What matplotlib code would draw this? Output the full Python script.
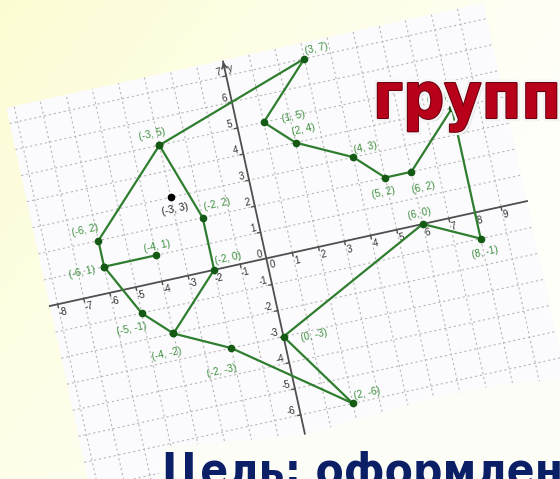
import matplotlib

matplotlib.use("Agg")
import matplotlib.pyplot as plt
import matplotlib.patheffects as pe
import numpy as np
from matplotlib.patches import Polygon, Rectangle
from matplotlib.transforms import Affine2D

# picture traced point to point on the coordinate plane
outline_x = [-4, -6, -6, -3, 3, 1, 2, 4, 5, 6, 8, 8, 6, 0, 2, -2, -4, -5, -6]
outline_y = [1, 1, 2, 5, 7, 5, 4, 3, 2, 2, 4, -1, 0, -3, -6, -3, -2, -1, 1]
inner_x = [-3, -2, -2, -4]
inner_y = [5, 2, 0, -2]
eye_x = [-3]
eye_y = [3]

x_ticks = [-8, -7, -6, -5, -4, -3, -2, -1, 1, 2, 3, 4, 5, 6, 7, 8, 9]
y_ticks = [-6, -5, -4, -3, -2, -1, 1, 2, 3, 4, 5, 6, 7]

heading = "групп"
goal = "Цель: оформлен"

# label offsets in screen pixels (right, down) from each point
label_offsets = {
    (3, 7): (12, -10), (1, 5): (30, -6), (2, 4): (8, -13), (4, 3): (12, -10),
    (5, 2): (-2, 15), (6, 2): (12, 16), (8, 4): (-14, -10), (8, -1): (4, 14),
    (6, 0): (-3, -10), (0, -3): (31, -1), (2, -6): (14, -10), (-2, -3): (-10, 23),
    (-4, -2): (-7, 20), (-5, -1): (-10, 16), (-6, 1): (-22, 6), (-6, 2): (-13, -10),
    (-4, 1): (1, -9), (-3, 5): (-7, -11), (-2, 2): (14, -13), (-2, 0): (14, -12),
    (-3, 3): (4, 12),
}

W, H = 560, 479
ANGLE = 12.4
UNIT = 26.7
ORIGIN = (266.3, 258.4)
LINE = "#2f7d2f"
LABEL = "#3e8f3e"
FONT = ["Liberation Sans", "DejaVu Sans"]

fig = plt.figure(figsize=(W / 100, H / 100), dpi=100)
ax = fig.add_axes([0, 0, 1, 1])
ax.set_axis_off()

# pale yellow backdrop
gx, gy = np.meshgrid(np.linspace(0, 1, 200), np.linspace(0, 1, 170))
t = np.clip(gx * 0.9 + gy * 0.55, 0, 1)[..., None]
top = np.array([252, 252, 212]) / 255
end = np.array([255, 255, 249]) / 255
ax.imshow(top * (1 - t) + end * t, extent=(0, W, H, 0), zorder=0, aspect="auto")
ax.set_xlim(0, W)
ax.set_ylim(H, 0)

grid_tr = Affine2D().scale(UNIT, -UNIT).rotate_deg(-ANGLE).translate(*ORIGIN) + ax.transData

x0, x1, y0, y1 = -8.3, 10.0, -8.6, 7.6
ax.add_patch(Rectangle((x0, y0), x1 - x0, y1 - y0, transform=grid_tr,
                       facecolor="#fbfbfd", edgecolor="none", zorder=1))
for gx_ in range(-8, 10):
    ax.plot([gx_, gx_], [y0, y1], transform=grid_tr, color="#b8b8b8",
            lw=0.8, ls=(0, (2, 2.5)), zorder=2)
for gy_ in range(-8, 8):
    ax.plot([x0, x1], [gy_, gy_], transform=grid_tr, color="#b8b8b8",
            lw=0.8, ls=(0, (2, 2.5)), zorder=2)

# axes
ax.plot([x0, x1], [0, 0], transform=grid_tr, color="#505050", lw=1.3, zorder=3)
ax.plot([0, 0], [y0, y1 - 0.05], transform=grid_tr, color="#505050", lw=1.3, zorder=3)
ax.annotate("", xy=(0, 7.65), xytext=(0, 7.2), xycoords=grid_tr, textcoords=grid_tr,
            arrowprops=dict(arrowstyle="->", color="#505050", lw=1.2,
                            mutation_scale=9), zorder=3)
for v in x_ticks:
    ax.plot([v, v], [0, -0.12], transform=grid_tr, color="#505050", lw=1, zorder=3)
    ax.annotate(str(v), xy=(v, 0), xycoords=grid_tr, xytext=(5, -8),
                textcoords="offset pixels", ha="center", va="center",
                rotation=ANGLE, fontsize=7, color="#333333", family=FONT, zorder=3)
for v in y_ticks:
    ax.plot([0, -0.12], [v, v], transform=grid_tr, color="#505050", lw=1, zorder=3)
    ax.annotate(str(v), xy=(0, v), xycoords=grid_tr, xytext=(-4, 3.5),
                textcoords="offset pixels", ha="right", va="center",
                rotation=ANGLE, fontsize=7, color="#333333", family=FONT, zorder=3)
ax.annotate("0", xy=(0, 0), xycoords=grid_tr, xytext=(6, -6), textcoords="offset pixels",
            ha="center", va="center", rotation=ANGLE, fontsize=7, color="#333333",
            family=FONT, zorder=3)
ax.annotate("0", xy=(0, 0), xycoords=grid_tr, xytext=(-7, 4), textcoords="offset pixels",
            ha="center", va="center", rotation=ANGLE, fontsize=7, color="#333333",
            family=FONT, zorder=3)
ax.annotate("y", xy=(0, 7), xycoords=grid_tr, xytext=(4, 7), textcoords="offset pixels",
            ha="center", va="center", rotation=ANGLE, fontsize=7, color="#333333",
            family=FONT, zorder=3)

# the drawing
ax.plot(outline_x, outline_y, transform=grid_tr, color=LINE, lw=1.6, zorder=4)
ax.plot(inner_x, inner_y, transform=grid_tr, color=LINE, lw=1.6, zorder=4)
ax.plot(outline_x, outline_y, transform=grid_tr, ls="none", marker="o", ms=4.5,
        color="#145a14", zorder=5)
ax.plot(inner_x, inner_y, transform=grid_tr, ls="none", marker="o", ms=4.5,
        color="#145a14", zorder=5)
ax.plot(eye_x, eye_y, transform=grid_tr, ls="none", marker="o", ms=4.5,
        color="black", zorder=5)

seen = set()
for px, py in list(zip(outline_x, outline_y)) + list(zip(inner_x, inner_y)) + list(zip(eye_x, eye_y)):
    if (px, py) in seen:
        continue
    seen.add((px, py))
    dx, dy = label_offsets[(px, py)]
    color = "#222222" if (px, py) == (eye_x[0], eye_y[0]) else LABEL
    ax.annotate(f"({px}, {py})", xy=(px, py), xycoords=grid_tr, xytext=(dx, -dy),
                textcoords="offset pixels", ha="center", va="center",
                rotation=ANGLE, fontsize=7.2, color=color, family=FONT, zorder=5)

# light band behind the bottom caption
ax.add_patch(Polygon([(158, H), (163, 447), (300, 436), (370, 416), (440, 396),
                      (500, 385), (W, 379), (W, H)],
                     facecolor="#fdfdf7", edgecolor="none", zorder=6))

ax.text(373, 118, heading, fontsize=46, fontweight="bold", fontstretch="condensed",
        color="#b8001a", family="DejaVu Sans", ha="left", va="baseline", zorder=7,
        path_effects=[pe.SimplePatchShadow(offset=(2, -2), shadow_rgbFace="#888888", alpha=0.6),
                      pe.Stroke(linewidth=5, foreground="#f4f4f4"),
                      pe.Stroke(linewidth=1.5, foreground="#6a0010"),
                      pe.Normal()])
ax.text(162, 486, goal, fontsize=33, fontweight="bold", fontstretch="condensed",
        color="#0b1f66", family="DejaVu Sans", ha="left", va="baseline", zorder=7)

fig.savefig("out.png", dpi=100)
